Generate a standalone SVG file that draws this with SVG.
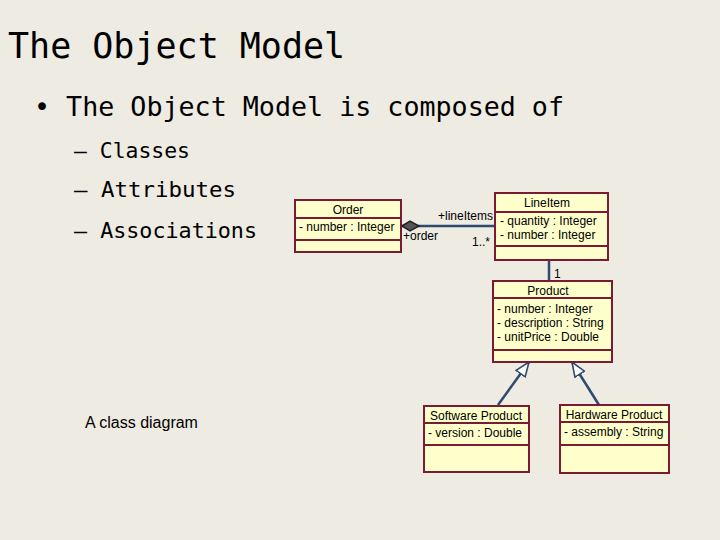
<svg xmlns="http://www.w3.org/2000/svg" width="720" height="540" viewBox="0 0 720 540">
<style>
.bg{fill:#eeebe3}
.box{fill:#ffffcc;stroke:#7a1a33;stroke-width:2}
.div{stroke:#7a1a33;stroke-width:2}
.t{font-family:"Liberation Sans",Arial,sans-serif;font-size:12px;fill:#000}
.c{stroke:#2e4a6e;stroke-width:2.5;fill:none}
.h{font-family:"DejaVu Sans Mono",monospace;fill:#000}
</style>
<defs>
<marker id="tri" viewBox="0 0 20 20" refX="19" refY="10" markerWidth="16" markerHeight="16" markerUnits="userSpaceOnUse" orient="auto"><path d="M1,3 L19,10 L1,17 Z" fill="#fff" stroke="#2e4a6e" stroke-width="2"/></marker>
</defs>
<rect class="bg" width="720" height="540"/>
<text class="h" x="8" y="58" font-size="35">The Object Model</text>
<text class="h" x="34" y="116" font-size="27" textLength="530" lengthAdjust="spacingAndGlyphs">• The Object Model is composed of</text>
<text class="h" x="74" y="158" font-size="22" textLength="116" lengthAdjust="spacingAndGlyphs">– Classes</text>
<text class="h" x="74" y="197" font-size="22" textLength="162" lengthAdjust="spacingAndGlyphs">– Attributes</text>
<text class="h" x="74" y="238" font-size="22" textLength="183" lengthAdjust="spacingAndGlyphs">– Associations</text>
<text x="85" y="428" font-family="Liberation Sans,Arial,sans-serif" font-size="16">A class diagram</text>
<g id="connectors">
<line class="c" x1="402" y1="226" x2="495" y2="226"/>
<path d="M402,226 L410,221 L419,226 L410,231 Z" fill="#555" stroke="#222" stroke-width="1.5"/>
<line class="c" x1="549" y1="260" x2="549" y2="281"/>
<line class="c" x1="498" y1="405" x2="529" y2="362" marker-end="url(#tri)"/>
<line class="c" x1="599" y1="405" x2="572" y2="362" marker-end="url(#tri)"/>
<text class="t" x="438" y="220">+lineItems</text>
<text class="t" x="403" y="240">+order</text>
<text class="t" x="472" y="246">1..*</text>
<text class="t" x="554" y="278">1</text>
</g>
<g id="order">
<rect class="box" x="295" y="200" width="106" height="52"/>
<line class="div" x1="295" y1="218" x2="401" y2="218"/><line class="div" x1="295" y1="240" x2="401" y2="240"/>
<text class="t" x="348" y="214" text-anchor="middle">Order</text>
<text class="t" x="299" y="231">- number : Integer</text>
</g>
<g id="lineitem">
<rect class="box" x="495" y="193" width="113" height="67"/>
<line class="div" x1="495" y1="212" x2="608" y2="212"/><line class="div" x1="495" y1="246" x2="608" y2="246"/>
<text class="t" x="547" y="207" text-anchor="middle">LineItem</text>
<text class="t" x="500" y="225">- quantity : Integer</text>
<text class="t" x="500" y="239">- number : Integer</text>
</g>
<g id="product">
<rect class="box" x="493" y="281" width="119" height="81"/>
<line class="div" x1="493" y1="298" x2="612" y2="298"/><line class="div" x1="493" y1="350" x2="612" y2="350"/>
<text class="t" x="548" y="295" text-anchor="middle">Product</text>
<text class="t" x="497" y="313">- number : Integer</text>
<text class="t" x="497" y="327">- description : String</text>
<text class="t" x="497" y="341">- unitPrice : Double</text>
</g>
<g id="software">
<rect class="box" x="424" y="406" width="105" height="66"/>
<line class="div" x1="424" y1="423" x2="529" y2="423"/><line class="div" x1="424" y1="445" x2="529" y2="445"/>
<text class="t" x="476" y="420" text-anchor="middle">Software Product</text>
<text class="t" x="428" y="437">- version : Double</text>
</g>
<g id="hardware">
<rect class="box" x="560" y="405" width="109" height="68"/>
<line class="div" x1="560" y1="422" x2="669" y2="422"/><line class="div" x1="560" y1="445" x2="669" y2="445"/>
<text class="t" x="614" y="419" text-anchor="middle">Hardware Product</text>
<text class="t" x="564" y="436">- assembly : String</text>
</g>
</svg>
